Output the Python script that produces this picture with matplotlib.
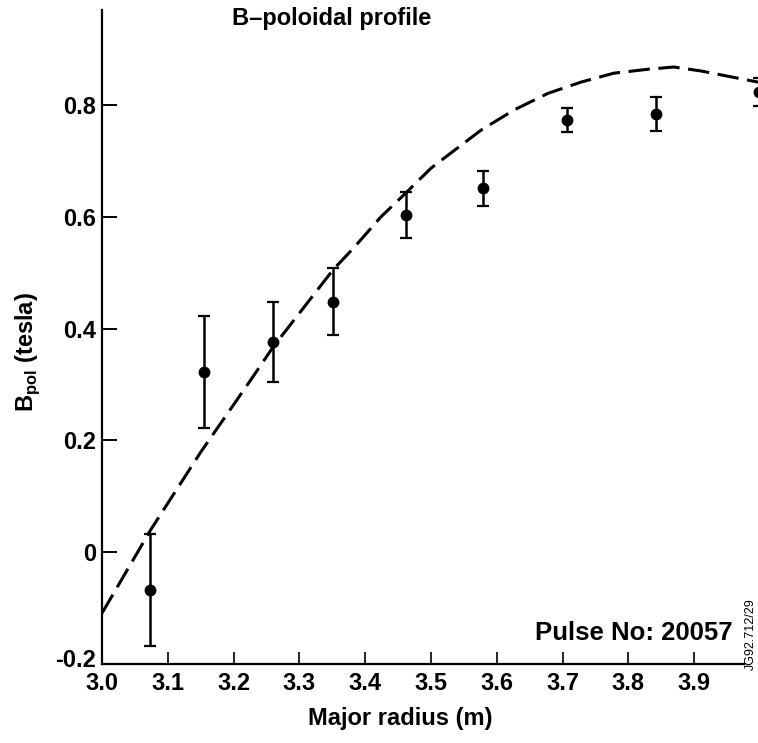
import matplotlib.pyplot as plt
from matplotlib.transforms import ScaledTranslation

plt.rcParams['font.family'] = ['Liberation Sans', 'DejaVu Sans']

# measured points with error bars
radius = [3.073, 3.155, 3.260, 3.351, 3.462, 3.579, 3.707, 3.842, 3.998]
b_pol = [-0.067, 0.322, 0.376, 0.448, 0.603, 0.651, 0.773, 0.784, 0.824]
b_err = [0.100, 0.100, 0.072, 0.060, 0.041, 0.031, 0.022, 0.030, 0.025]

# dashed model profile
curve_r = [3.000, 3.074, 3.150, 3.226, 3.260, 3.351, 3.383, 3.424, 3.462, 3.500,
           3.530, 3.576, 3.626, 3.678, 3.728, 3.778, 3.830, 3.869, 3.910, 3.997]
curve_b = [-0.109, 0.040, 0.179, 0.308, 0.367, 0.505, 0.545, 0.600, 0.643, 0.687,
           0.714, 0.755, 0.791, 0.821, 0.841, 0.857, 0.864, 0.868, 0.861, 0.841]

x_ticks = [3.0, 3.1, 3.2, 3.3, 3.4, 3.5, 3.6, 3.7, 3.8, 3.9]
x_tick_labels = ['3.0', '3.1', '3.2', '3.3', '3.4', '3.5', '3.6', '3.7', '3.8', '3.9']
y_ticks = [-0.2, 0.0, 0.2, 0.4, 0.6, 0.8]
y_tick_labels = ['-0.2', '0', '0.2', '0.4', '0.6', '0.8']

W, H = 758, 743
fig = plt.figure(figsize=(W / 100, H / 100), dpi=100)
ax = fig.add_axes([102 / W, (H - 664) / H, 1 - 102 / W, (664 - 10) / H])

ax.plot(curve_r, curve_b, color='black', linewidth=2.2, linestyle=(0, (7, 2.8)))
ax.errorbar(radius, b_pol, yerr=b_err, fmt='o', color='black', markersize=7.5,
            elinewidth=1.8, capsize=4, capthick=1.6)

ax.set_xlim(3.0, 3.997)
ax.set_ylim(-0.2, 0.97)
ax.set_xticks(x_ticks)
ax.set_xticklabels(x_tick_labels)
ax.set_yticks(y_ticks)
ax.set_yticklabels(y_tick_labels)

for side in ['top', 'right']:
    ax.spines[side].set_visible(False)
for side in ['left', 'bottom']:
    ax.spines[side].set_linewidth(1.6)
ax.spines['bottom'].set_bounds(3.0, 3.975)

fs = 17
ax.tick_params(axis='x', direction='in', length=9, width=1.2, labelsize=fs, pad=6)
ax.tick_params(axis='y', direction='in', length=11, width=1.4, labelsize=fs, pad=4)
for lbl in ax.get_xticklabels() + ax.get_yticklabels():
    lbl.set_fontweight('bold')
# lowest y label sits a little above its tick in the original
low = ax.get_yticklabels()[0]
low.set_transform(low.get_transform() + ScaledTranslation(0, 4 / 72, fig.dpi_scale_trans))

ax.set_xlabel('Major radius (m)', fontsize=fs, fontweight='bold', va='center')
ax.xaxis.set_label_coords((400 - 102) / 656, -(718 - 664) / 654)
ax.set_ylabel(r'B$_{\mathregular{pol}}$ (tesla)', fontsize=fs, fontweight='bold',
              va='center')
ax.yaxis.set_label_coords(-(102 - 28) / 656, (664 - 352) / 654)

fig.text(332 / W, 1 - 19 / H, 'B\u2013poloidal profile', fontsize=fs,
         fontweight='bold', ha='center', va='center')
fig.text(733 / W, 1 - 640 / H, 'Pulse No: 20057', fontsize=18.5,
         fontweight='bold', ha='right', va='baseline')
fig.text(751 / W, 1 - 634 / H, 'JG92.712/29', fontsize=9, rotation=90,
         ha='center', va='center')

fig.savefig('out.png', dpi=100)
